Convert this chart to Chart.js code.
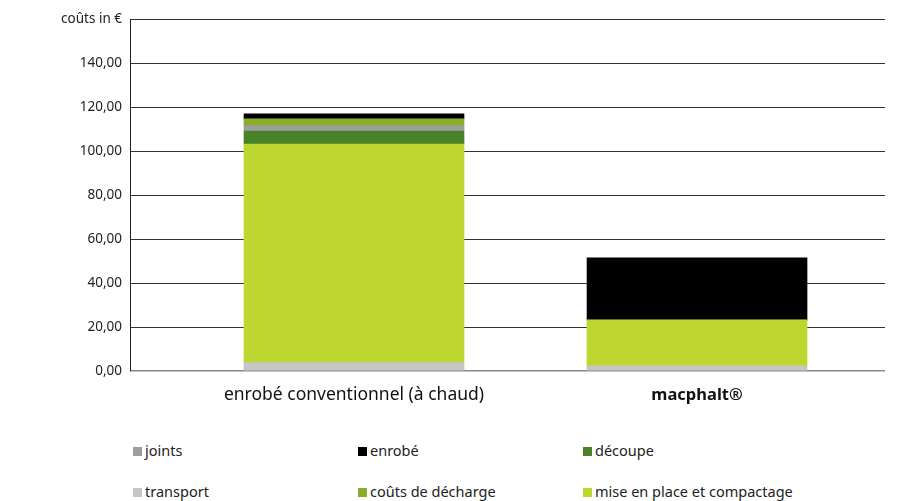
<!DOCTYPE html>
<html>
<head>
<meta charset="utf-8">
<script src="https://cdn.jsdelivr.net/npm/chart.js@4/dist/chart.umd.min.js"></script>
<style>
  body { margin: 0; background: #fff; font-family: "Noto Sans", sans-serif; }
  #wrap { position: relative; width: 899px; height: 501px; }
  #legend { position: absolute; left: 133px; top: 440px; display: grid;
    grid-template-columns: 225px 225px 225px; row-gap: 21px; font-size: 14.5px; color: #222; }
  #legend span.box { display: inline-block; width: 9px; height: 9px; margin-right: 3px; vertical-align: 0px; }
</style>
</head>
<body>
<div id="wrap">
  <canvas id="chart"></canvas>
  <div id="legend"></div>
</div>
<script>
var categories = ['enrobé conventionnel (à chaud)', 'macphalt®'];
var transport = [3.8, 2.3];
var miseEnPlace = [99.4, 20.9];
var decoupe = [5.9, 0];
var joints = [2.3, 0];
var decharge = [3.2, 0];
var enrobe = [2.3, 28.2];
var yTicks = [0, 20, 40, 60, 80, 100, 120, 140, 160];
var legendOrder = ['joints', 'enrobé', 'découpe', 'transport', 'coûts de décharge', 'mise en place et compactage'];

function pts(arr) {
  return arr.map(function (v, i) { return { x: i, y: v }; });
}

var canvas = document.getElementById('chart');
canvas.width = 899;
canvas.height = 420;
var ctx = canvas.getContext('2d');

Chart.defaults.font.family = '"Noto Sans", sans-serif';
Chart.defaults.color = '#222';

var myChart = new Chart(ctx, {
  type: 'bar',
  data: {
    datasets: [
      { label: 'transport', backgroundColor: '#c6c6c6', data: pts(transport) },
      { label: 'mise en place et compactage', backgroundColor: '#bed630', data: pts(miseEnPlace) },
      { label: 'découpe', backgroundColor: '#4a8229', data: pts(decoupe) },
      { label: 'joints', backgroundColor: '#9d9d9d', data: pts(joints) },
      { label: 'coûts de décharge', backgroundColor: '#8aac2a', data: pts(decharge) },
      { label: 'enrobé', backgroundColor: '#000000', data: pts(enrobe) }
    ]
  },
  options: {
    responsive: false,
    animation: false,
    barThickness: 220,
    layout: { padding: { top: 19, right: 14 } },
    plugins: { legend: { display: false }, tooltip: { enabled: false } },
    scales: {
      x: {
        type: 'linear',
        stacked: true,
        offset: false,
        min: -0.653,
        max: 1.548,
        grid: { display: false },
        border: { display: false },
        afterBuildTicks: function (scale) {
          scale.ticks = categories.map(function (c, i) { return { value: i }; });
        },
        afterFit: function (scale) { scale.height = 49; },
        ticks: {
          padding: 6,
          font: function (c) {
            return c.tick && c.tick.value === 1 ? { size: 16.5, weight: 'bold' } : { size: 17.5 };
          },
          color: '#111',
          callback: function (v) { return categories[v]; }
        }
      },
      y: {
        stacked: true,
        min: 0,
        max: 160,
        afterBuildTicks: function (scale) {
          scale.ticks = yTicks.map(function (v) { return { value: v }; });
        },
        afterFit: function (scale) { scale.width = 130; },
        border: { display: true, color: '#222', width: 1 },
        grid: {
          drawTicks: false,
          color: function (c) { return c.tick && c.tick.value === 0 ? '#888' : '#333'; },
          lineWidth: function (c) { return c.tick && c.tick.value === 0 ? 1.5 : 1; }
        },
        ticks: {
          padding: 8,
          font: { size: 13.5 },
          color: '#222',
          callback: function (v) {
            if (v === 160) return 'coûts in €';
            return v.toFixed(2).replace('.', ',');
          }
        }
      }
    }
  }
});

var byLabel = {};
myChart.data.datasets.forEach(function (d) { byLabel[d.label] = d; });
var legend = document.getElementById('legend');
legendOrder.forEach(function (name) {
  var item = document.createElement('div');
  item.innerHTML = '<span class="box" style="background:' + byLabel[name].backgroundColor + '"></span>' + name;
  legend.appendChild(item);
});
</script>
</body>
</html>
